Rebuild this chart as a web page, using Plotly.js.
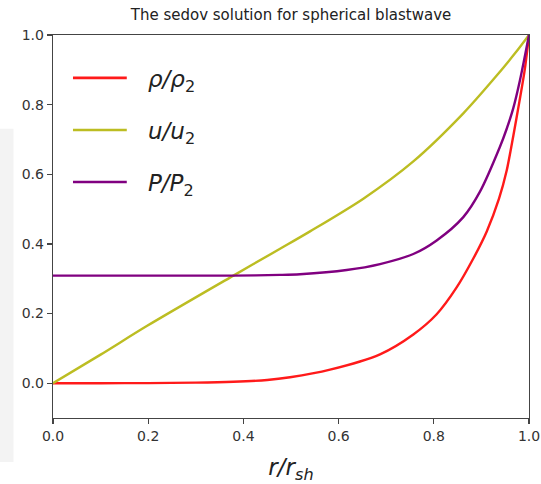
<!DOCTYPE html>
<html>
<head>
<meta charset="utf-8">
<script src="https://cdn.plot.ly/plotly-3.0.1.min.js"></script>
<style>html,body{margin:0;padding:0;background:#fff;}#chart{width:541px;height:484px;}</style>
</head>
<body>
<div id="chart"></div>
<script>
// Series
const seriesNames = ["<i>ρ/ρ</i><sub>2</sub>", "<i>u/u</i><sub>2</sub>", "<i>P/P</i><sub>2</sub>"];
const seriesColors = ["#ff1a1a", "#bcbd22", "#800080"];

const rRho = [0, 0.1, 0.2, 0.3, 0.379, 0.45, 0.498, 0.582, 0.687, 0.757, 0.806, 0.848, 0.883, 0.911, 0.937, 0.953, 0.967, 0.980, 0.991, 1.0];
const rho  = [0, 0, 0.0003, 0.0015, 0.004, 0.009, 0.017, 0.039, 0.083, 0.140, 0.198, 0.275, 0.358, 0.435, 0.53, 0.61, 0.71, 0.81, 0.90, 1.0];

const rU = [0, 0.1, 0.197, 0.379, 0.477, 0.540, 0.652, 0.757, 0.862, 0.925, 0.971, 1.0];
const u  = [0, 0.082, 0.164, 0.309, 0.386, 0.436, 0.530, 0.637, 0.775, 0.872, 0.948, 1.0];

const rP = [0, 0.1, 0.2, 0.3, 0.379, 0.477, 0.519, 0.617, 0.687, 0.757, 0.806, 0.862, 0.897, 0.939, 0.953, 0.967, 0.981, 1.0];
const p  = [0.309, 0.309, 0.309, 0.309, 0.309, 0.311, 0.313, 0.325, 0.342, 0.371, 0.410, 0.477, 0.550, 0.679, 0.73, 0.79, 0.87, 1.0];

const xTicks = [0, 0.2, 0.4, 0.6, 0.8, 1.0];
const xTickLabels = ["0.0", "0.2", "0.4", "0.6", "0.8", "1.0"];
const yTicks = [0, 0.2, 0.4, 0.6, 0.8, 1.0];
const yTickLabels = ["0.0", "0.2", "0.4", "0.6", "0.8", "1.0"];

const xs = [rRho, rU, rP];
const ys = [rho, u, p];

const traces = xs.map((x, i) => ({
  x: x, y: ys[i], type: "scatter", mode: "lines", name: seriesNames[i],
  line: {color: seriesColors[i], width: 2.4, shape: "spline", smoothing: 0.8}, showlegend: false, hoverinfo: "skip"
}));

// Hand-drawn legend (long sample lines as in reference)
const legY = [0.888, 0.752, 0.616];
const shapes = [
  {type: "rect", xref: "paper", yref: "paper", x0: -0.115, x1: -0.083, y0: -0.115, y1: 0.755,
   fillcolor: "#f3f3f3", line: {width: 0}, layer: "below"}
];
const annotations = [];
seriesNames.forEach((n, i) => {
  shapes.push({type: "line", xref: "paper", yref: "paper", x0: 0.042, x1: 0.155, y0: legY[i], y1: legY[i],
    line: {color: seriesColors[i], width: 2.6}});
  annotations.push({xref: "paper", yref: "paper", x: 0.196, y: legY[i] - 0.008, xanchor: "left", yanchor: "middle",
    text: n, showarrow: false, font: {family: "DejaVu Sans", size: 23, color: "#222"}});
});

const axisCommon = {
  showline: true, mirror: true, linecolor: "#444", linewidth: 1.3,
  ticks: "outside", ticklen: 5, tickwidth: 1.2, tickcolor: "#444",
  showgrid: false, zeroline: false,
  tickfont: {family: "DejaVu Sans", size: 14, color: "#333"}
};

const layout = {
  width: 541, height: 484,
  margin: {l: 53, r: 12, t: 35, b: 66},
  paper_bgcolor: "#ffffff", plot_bgcolor: "#ffffff",
  title: {text: "The sedov solution for spherical blastwave", font: {family: "DejaVu Sans", size: 15, color: "#222"},
          x: 0.5, xref: "paper", xanchor: "center", y: 1 - 15 / 484, yref: "container", yanchor: "middle"},
  xaxis: Object.assign({}, axisCommon, {range: [0, 1], tickvals: xTicks, ticktext: xTickLabels,
    title: {text: "<i>r/r<sub>sh</sub></i>", font: {family: "DejaVu Sans", size: 23, color: "#222"}, standoff: 21}}),
  yaxis: Object.assign({}, axisCommon, {range: [-0.1, 1.0], tickvals: yTicks, ticktext: yTickLabels}),
  shapes: shapes,
  annotations: annotations,
  showlegend: false
};

Plotly.newPlot("chart", traces, layout, {displayModeBar: false, staticPlot: true});
</script>
</body>
</html>
